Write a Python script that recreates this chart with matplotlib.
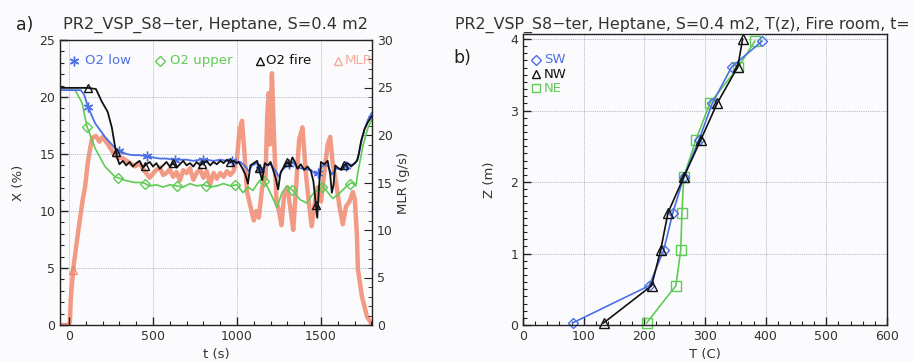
import numpy as np
import matplotlib
matplotlib.use("Agg")
import matplotlib.pyplot as plt
from matplotlib.ticker import MultipleLocator

# ---------------- data (panel a) ----------------
t_fire = [-52, 110, 160, 195, 230, 255, 272, 286, 300, 320, 340, 360, 380, 400, 420, 440, 460, 480,
          500, 520, 540, 560, 580, 600, 620, 640, 660, 680, 700, 720, 740, 760, 780, 800, 820, 840,
          860, 880, 900, 920, 940, 960, 980, 1000, 1010, 1030, 1050, 1065, 1080, 1100, 1120, 1135,
          1150, 1165, 1185, 1200, 1215, 1230, 1245, 1260, 1280, 1300, 1315, 1330, 1345, 1360, 1380,
          1400, 1420, 1440, 1455, 1470, 1478, 1488, 1500, 1520, 1540, 1555, 1565, 1575, 1585, 1600,
          1620, 1640, 1660, 1680, 1700, 1715, 1725, 1740, 1760, 1780, 1802]
o2_fire = [20.8, 20.8, 20.7, 19.6, 18.7, 17.3, 15.8, 14.7, 14.1, 14.4, 14.0, 14.3, 13.9, 14.2, 14.4,
           13.8, 14.1, 14.3, 13.9, 14.2, 13.7, 14.0, 14.3, 13.9, 14.2, 13.8, 14.1, 14.4, 14.0, 14.2,
           13.9, 14.3, 14.0, 14.2, 14.4, 14.0, 14.3, 14.1, 14.4, 14.2, 14.5, 14.3, 14.4, 14.2, 14.3,
           13.8, 13.2, 12.4, 14.0, 14.2, 14.4, 13.5, 12.7, 14.2, 14.0, 14.3, 13.6, 12.9, 11.9, 13.4,
           13.9, 14.3, 14.0, 14.7, 14.3, 13.7, 14.1, 13.6, 13.9, 13.5, 12.6, 10.5, 9.4, 12.0, 14.3,
           14.1, 14.4, 13.2, 11.6, 12.3, 14.0, 13.8, 13.6, 14.0, 14.2, 13.9, 14.2, 14.4, 15.0, 16.2,
           17.2, 17.8, 18.3]

t_low = [-52, 70, 90, 113, 155, 214, 274, 300, 340, 380, 420, 460, 500, 540, 580, 620, 660, 700, 740,
         780, 820, 860, 900, 940, 980, 1020, 1050, 1070, 1090, 1120, 1150, 1170, 1200, 1230, 1250,
         1270, 1300, 1330, 1360, 1400, 1440, 1470, 1490, 1510, 1540, 1565, 1590, 1620, 1660, 1700,
         1720, 1740, 1760, 1780, 1802]
o2_low = [20.6, 20.6, 20.2, 19.1, 17.7, 16.5, 15.5, 15.3, 15.0, 14.9, 14.9, 14.8, 14.7, 14.6, 14.6,
          14.5, 14.5, 14.5, 14.4, 14.5, 14.5, 14.4, 14.5, 14.4, 14.4, 14.3, 13.9, 13.5, 14.0, 14.2,
          13.4, 14.0, 14.1, 13.5, 13.0, 13.6, 14.0, 14.3, 13.8, 13.7, 13.6, 13.2, 13.4, 14.0, 14.0,
          13.2, 13.7, 13.7, 14.0, 14.1, 14.6, 16.0, 17.2, 18.0, 18.6]

t_upper = [-52, 36, 77, 107, 155, 214, 274, 315, 330, 360, 393, 440, 480, 520, 560, 600, 640, 680,
           720, 760, 800, 840, 880, 920, 960, 1000, 1036, 1066, 1095, 1126, 1149, 1178, 1208, 1238,
           1268, 1298, 1333, 1375, 1416, 1452, 1494, 1512, 1553, 1571, 1613, 1655, 1684, 1708, 1720,
           1750, 1780, 1802]
o2_upper = [20.6, 20.6, 19.5, 17.4, 15.5, 13.9, 13.0, 12.8, 12.7, 12.6, 12.5, 12.5, 12.2, 12.3, 12.1,
            12.3, 12.2, 12.1, 12.4, 12.2, 12.3, 12.1, 12.2, 12.4, 12.2, 12.3, 11.6, 12.1, 11.8, 12.5,
            12.9, 12.2, 11.3, 10.3, 11.6, 12.2, 11.8, 11.0, 10.7, 11.5, 12.0, 12.2, 11.4, 11.1, 11.6,
            12.2, 12.5, 12.2, 13.4, 15.7, 17.3, 18.0]

t_mlr = [-52, -5, 5, 10, 24, 48, 65, 83, 95, 113, 137, 160, 180, 200, 232, 260, 290, 315, 350, 393,
         420, 450, 480, 512, 540, 560, 580, 600, 620, 640, 660, 680, 700, 720, 740, 760, 780, 800,
         820, 840, 860, 880, 900, 920, 940, 960, 980, 1000, 1015, 1030, 1045, 1060, 1080, 1100,
         1115, 1130, 1150, 1170, 1180, 1188, 1196, 1208, 1220, 1235, 1250, 1265, 1280, 1300, 1320,
         1335, 1350, 1370, 1390, 1410, 1430, 1445, 1465, 1480, 1500, 1520, 1540, 1555, 1570, 1590,
         1610, 1630, 1650, 1670, 1690, 1702, 1714, 1720, 1744, 1774, 1802]
mlr = [0.0, 0.0, 0.3, 2.7, 5.8, 9.0, 11.2, 13.4, 14.5, 17.3, 19.7, 19.9, 19.3, 19.8, 19.0, 18.2, 17.6,
       17.6, 17.2, 16.7, 17.0, 16.2, 15.5, 16.2, 16.6, 15.8, 16.0, 16.4, 15.6, 16.1, 15.2, 16.3, 16.0,
       16.5, 15.3, 16.0, 16.4, 15.5, 16.2, 14.8, 16.0, 15.4, 16.0, 15.6, 16.2, 15.8, 16.2, 17.5, 20.5,
       21.5, 18.0, 14.0, 12.5, 11.0, 12.0, 11.3, 14.5, 15.5, 22.0, 24.4, 19.0, 26.5, 20.0, 13.0, 12.0,
       10.5, 13.5, 14.5, 12.0, 10.0, 14.0, 19.5, 20.8, 16.0, 12.5, 10.4, 13.0, 14.5, 13.0, 16.0, 19.0,
       19.8, 17.0, 15.0, 12.5, 10.6, 12.5, 13.0, 14.0, 13.2, 9.5, 5.9, 3.0, 0.9, 0.1]

mk_low = [113, 300, 465, 630, 800, 970, 1140, 1310, 1480, 1650]
mk_upper = [107, 292, 452, 643, 815, 988, 1160, 1330, 1506, 1672]
mk_fire = [110, 280, 450, 620, 790, 960, 1130, 1300, 1470, 1640]
mk_mlr = [24]

# ---------------- data (panel b) ----------------
z_levels = [0.03, 0.55, 1.05, 1.57, 2.07, 2.59, 3.10, 3.61, 3.97]
T_sw = [82, 208, 232, 247, 265, 290, 312, 344, 394]
T_nw = [133, 212, 227, 239, 265, 293, 320, 354, 362]
T_ne = [204, 252, 260, 262, 265, 285, 308, 355, 382]
z_nw = [0.03, 0.55, 1.05, 1.57, 2.07, 2.59, 3.10, 3.61, 4.00]

# ---------------- style ----------------
C_BLUE = "#4d6fe6"
C_GREEN = "#5fcb55"
C_BLACK = "#111111"
C_MLR = "#f07a5c"
C_GRID = "#9aa8b8"
BG = "#fbfbfd"
TXT = "#333333"

plt.rcParams['font.family'] = ['DejaVu Sans']

fig = plt.figure(figsize=(9.13, 3.62), dpi=100, facecolor=BG)

def style_axes(ax):
    ax.set_facecolor(BG)
    for s in ax.spines.values():
        s.set_color("#222222")
        s.set_linewidth(1.0)
    ax.tick_params(which='both', direction='in', colors="#222222", labelcolor=TXT, labelsize=9,
                   top=False)
    ax.tick_params(which='major', length=6, width=1.0)
    ax.tick_params(which='minor', length=3, width=0.8)
    ax.grid(True, which='major', color=C_GRID, linestyle=(0, (1, 1.2)), linewidth=0.6)

# ---- panel a ----
axa = fig.add_axes([60/913, 1-325/362, 312/913, 285/362])
style_axes(axa)
axa.tick_params(axis='y', right=False)
axa.set_xlim(-54, 1804)
axa.set_ylim(0, 25)
axa.xaxis.set_major_locator(MultipleLocator(500))
axa.xaxis.set_minor_locator(MultipleLocator(100))
axa.yaxis.set_major_locator(MultipleLocator(5))
axa.yaxis.set_minor_locator(MultipleLocator(1))
axa.set_xlabel("t (s)", fontsize=9.5, color=TXT, labelpad=4)
axa.set_ylabel("X (%)", fontsize=9.5, color=TXT, labelpad=10)

axm = axa.twinx()
axm.set_ylim(0, 30)
axm.yaxis.set_major_locator(MultipleLocator(5))
axm.yaxis.set_minor_locator(MultipleLocator(1))
axm.tick_params(which='both', direction='in', colors="#222222", labelcolor=TXT, labelsize=9)
axm.tick_params(which='major', length=6)
axm.tick_params(which='minor', length=3)
for s in axm.spines.values():
    s.set_visible(False)
axm.set_ylabel("MLR (g/s)", fontsize=9.5, color=TXT, labelpad=3)

axm.plot(t_mlr, mlr, color=C_MLR, lw=3.2, alpha=0.75, solid_joinstyle='round', zorder=1)
axm.plot(mk_mlr, np.interp(mk_mlr, t_mlr, mlr), linestyle='none', marker='^', ms=6,
         mfc='none', mec=C_MLR, alpha=0.8)
axa.set_zorder(axm.get_zorder() + 1)
axa.patch.set_visible(False)

axa.plot(t_upper, o2_upper, color=C_GREEN, lw=1.2)
axa.plot(mk_upper, np.interp(mk_upper, t_upper, o2_upper), linestyle='none', marker='D', ms=5,
         mfc='none', mec=C_GREEN, mew=1.0)
axa.plot(t_low, o2_low, color=C_BLUE, lw=1.3)
axa.plot(mk_low, np.interp(mk_low, t_low, o2_low), linestyle='none', marker=(6, 2, 0), ms=7,
         color=C_BLUE, mew=1.0)
axa.plot(t_fire, o2_fire, color=C_BLACK, lw=1.3)
axa.plot(mk_fire, np.interp(mk_fire, t_fire, o2_fire), linestyle='none', marker='^', ms=6,
         mfc='none', mec=C_BLACK, mew=1.0)

# in-plot legend of panel a (data coordinates of axa)
leg_y = 23.2
axa.plot([30], [leg_y], marker=(6, 2, 0), ms=7, color=C_BLUE, mew=1.0, clip_on=False)
axa.text(95, leg_y, "O2 low", color=C_BLUE, fontsize=9.5, va='center')
axa.plot([540], [leg_y], marker='D', ms=5, mfc='none', mec=C_GREEN, clip_on=False)
axa.text(600, leg_y, "O2 upper", color=C_GREEN, fontsize=9.5, va='center')
axa.plot([1135], [leg_y], marker='^', ms=6, mfc='none', mec=C_BLACK, clip_on=False)
axa.text(1175, leg_y, "O2 fire", color=C_BLACK, fontsize=9.5, va='center')
axa.plot([1600], [leg_y], marker='^', ms=6, mfc='none', mec=C_MLR, alpha=0.6)
axa.text(1640, leg_y, "MLR", color=C_MLR, alpha=0.6, fontsize=9.5, va='center', clip_on=True)

fig.text(215/913, 1-25/362, "PR2_VSP_S8\u2212ter, Heptane, S=0.4 m2", ha='center', va='center',
         fontsize=11.6, color=TXT)
fig.text(25/913, 1-25/362, "a)", ha='center', va='center', fontsize=12.5, color="#222222")

# ---- panel b ----
axb = fig.add_axes([523/913, 1-325/362, 364/913, 291/362])
style_axes(axb)
axb.tick_params(axis='y', right=False)
axb.set_xlim(0, 600)
axb.set_ylim(0, 4.07)
axb.xaxis.set_major_locator(MultipleLocator(100))
axb.xaxis.set_minor_locator(MultipleLocator(20))
axb.yaxis.set_major_locator(MultipleLocator(1))
axb.yaxis.set_minor_locator(MultipleLocator(0.1))
axb.set_xlabel("T (C)", fontsize=9.5, color=TXT, labelpad=4)
axb.set_ylabel("Z (m)", fontsize=9.5, color=TXT, labelpad=10)

axb.plot(T_ne, z_levels, color=C_GREEN, lw=1.2, marker='s', ms=6.5, mfc='none', mec=C_GREEN,
         clip_on=False)
axb.plot(T_sw, z_levels, color=C_BLUE, lw=1.2, marker='D', ms=5.5, mfc='none', mec=C_BLUE,
         clip_on=False)
axb.plot(T_nw, z_nw, color=C_BLACK, lw=1.2, marker='^', ms=6.5, mfc='none', mec=C_BLACK,
         clip_on=False)

for i, (lab, col, mk, ms) in enumerate([("SW", C_BLUE, 'D', 5), ("NW", C_BLACK, '^', 6),
                                         ("NE", C_GREEN, 's', 6)]):
    yy = 3.71 - i * 0.2
    axb.plot([22], [yy], marker=mk, ms=ms, mfc='none', mec=col, linestyle='none')
    axb.text(35, yy, lab, color=col, fontsize=9.5, va='center')

fig.text(910/913, 1-25/362, "PR2_VSP_S8\u2212ter, Heptane, S=0.4 m2, T(z), Fire room, t=",
         ha='right', va='center', fontsize=11.4, color=TXT)
fig.text(462/913, 1-58/362, "b)", ha='center', va='center', fontsize=12.5, color="#222222")

fig.savefig("out.png", dpi=100, facecolor=BG)
